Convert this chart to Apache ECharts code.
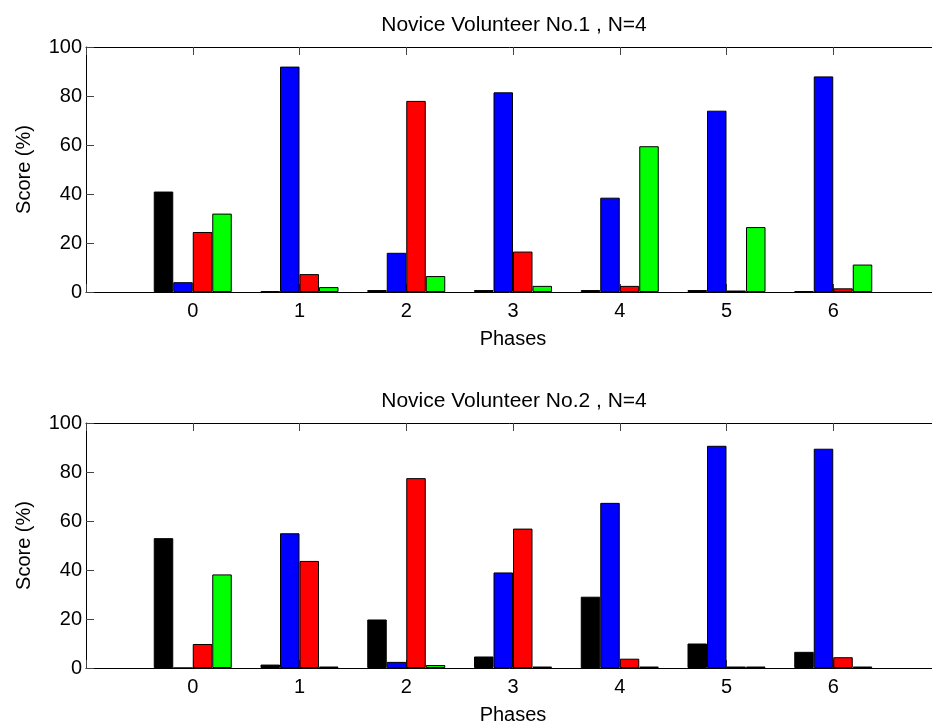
<!DOCTYPE html>
<html>
<head>
<meta charset="utf-8">
<script src="https://cdn.jsdelivr.net/npm/echarts@6/dist/echarts.min.js"></script>
<style>
  html, body { margin: 0; padding: 0; background: #fff; }
  #chart { width: 932px; height: 724px; }
</style>
</head>
<body>
<div id="chart"></div>
<script>
// Phases on the x axis
const phases = [0, 1, 2, 3, 4, 5, 6];

// Volunteer No.1 scores (%) per phase
const v1Black = [41, 0.3, 0.8, 0.8, 0.8, 0.8, 0.3];
const v1Blue  = [4, 92, 16, 81.5, 38.5, 74, 88];
const v1Red   = [24.5, 7.3, 78, 16.5, 2.5, 0.6, 1.5];
const v1Green = [32, 2, 6.5, 2.5, 59.5, 26.5, 11.2];

// Volunteer No.2 scores (%) per phase
const v2Black = [53, 1.4, 19.8, 4.7, 29.1, 10, 6.6];
const v2Blue  = [0, 55, 2.5, 39, 67.4, 90.7, 89.5];
const v2Red   = [9.8, 43.7, 77.5, 56.9, 3.8, 0.6, 4.4];
const v2Green = [38.2, 0.6, 1.2, 0.6, 0.6, 0.6, 0.6];

const yTicks = [0, 20, 40, 60, 80, 100];
const titles = ['Novice Volunteer No.1 , N=4', 'Novice Volunteer No.2 , N=4'];

const FONT = "'Liberation Sans', Arial, sans-serif";
const colors = ['#000000', '#0000ff', '#ff0000', '#00ff00'];

const chart = echarts.init(document.getElementById('chart'));

// x range: one empty phase slot on each side; the right border falls past the page edge
const X_MIN = -1, X_MAX = 7;
const gridTops = [47, 423];
const grids = gridTops.map(t => ({
  left: 86, top: t, width: 854, height: 245,
  outerBoundsMode: 'none', containLabel: false
}));

const xAxes = [];
const yAxes = [];
grids.forEach((g, i) => {
  // bottom axis with labels
  xAxes.push({
    type: 'value', gridIndex: i, min: X_MIN, max: X_MAX, interval: 1,
    name: 'Phases', nameLocation: 'middle', nameGap: 37,
    nameTextStyle: { fontFamily: FONT, fontSize: 20, color: '#000' },
    axisLine: { onZero: false, lineStyle: { color: '#000', width: 1 } },
    axisTick: { inside: true, length: 8, lineStyle: { color: '#444' } },
    axisLabel: {
      fontFamily: FONT, fontSize: 20, color: '#000', margin: 9,
      formatter: v => (phases.indexOf(v) >= 0 ? String(v) : '')
    },
    splitLine: { show: false }
  });
  // top border with inward ticks
  xAxes.push({
    type: 'value', gridIndex: i, position: 'top', min: X_MIN, max: X_MAX, interval: 1,
    axisLine: { onZero: false, lineStyle: { color: '#000', width: 1 } },
    axisTick: { inside: true, length: 8, lineStyle: { color: '#444' } },
    axisLabel: { show: false },
    splitLine: { show: false }
  });
  yAxes.push({
    type: 'value', gridIndex: i, min: yTicks[0], max: yTicks[yTicks.length - 1], interval: 20,
    position: 'left',
    name: 'Score (%)', nameLocation: 'middle', nameGap: 52,
    nameTextStyle: { fontFamily: FONT, fontSize: 20, color: '#000' },
    axisLine: { show: true, onZero: false, lineStyle: { color: '#000', width: 1 } },
    axisTick: { show: true, inside: true, length: 8, lineStyle: { color: '#444' } },
    axisLabel: { fontFamily: FONT, fontSize: 20, color: '#000', margin: 4 },
    splitLine: { show: false }
  });
});

function barSeries(data, color, gridIdx) {
  return {
    type: 'bar',
    xAxisIndex: gridIdx * 2,
    yAxisIndex: gridIdx,
    data: phases.map((p, k) => [p, data[k]]),
    barWidth: 19.5,
    barGap: '0%',
    itemStyle: { color: color, borderColor: '#000', borderWidth: 1 },
    emphasis: { disabled: true },
    animation: false
  };
}

const series = [
  barSeries(v1Black, colors[0], 0),
  barSeries(v1Blue, colors[1], 0),
  barSeries(v1Red, colors[2], 0),
  barSeries(v1Green, colors[3], 0),
  barSeries(v2Black, colors[0], 1),
  barSeries(v2Blue, colors[1], 1),
  barSeries(v2Red, colors[2], 1),
  barSeries(v2Green, colors[3], 1)
];

chart.setOption({
  backgroundColor: '#fff',
  animation: false,
  title: titles.map((t, i) => ({
    text: t,
    left: 509,
    top: gridTops[i] - 37,
    textAlign: 'center',
    textStyle: { fontFamily: FONT, fontSize: 21, fontWeight: 'normal', color: '#000' }
  })),
  grid: grids,
  xAxis: xAxes,
  yAxis: yAxes,
  series: series
});
</script>
</body>
</html>
